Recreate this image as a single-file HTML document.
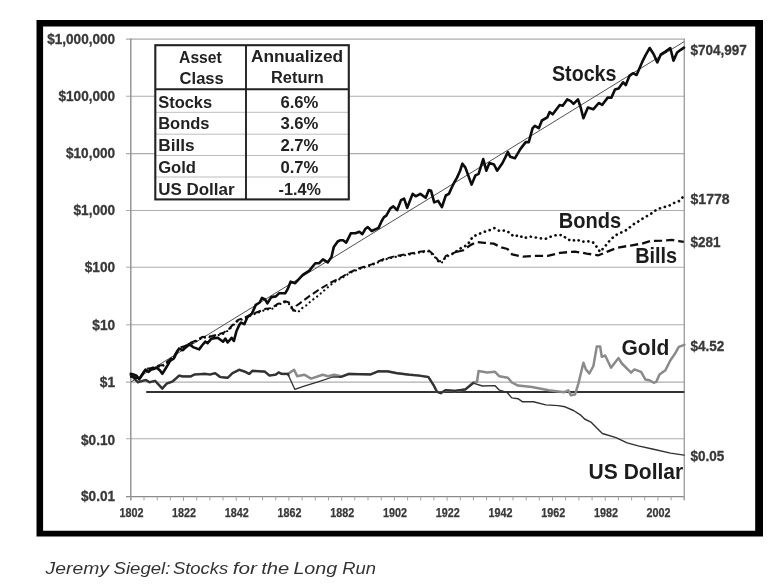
<!DOCTYPE html>
<html><head><meta charset="utf-8"><title>Stocks for the Long Run</title>
<style>html,body{margin:0;padding:0;background:#fff}body{width:777px;height:588px;overflow:hidden;font-family:"Liberation Sans",sans-serif}</style></head>
<body>
<svg width="777" height="588" viewBox="0 0 777 588" style="display:block;font-family:'Liberation Sans',sans-serif">
<rect width="777" height="588" fill="#fff"/>
<defs><filter id="soft" x="0" y="0" width="777" height="588" filterUnits="userSpaceOnUse"><feGaussianBlur stdDeviation="0.55"/></filter></defs>
<g id="chart" filter="url(#soft)">
<rect x="20" y="5" width="757" height="540" fill="#fff"/>
<path fill="#000" fill-rule="evenodd" d="M36.5,20 H763 V536.6 H36.5 Z M43.1,26.5 V530.7 H755.2 V26.5 Z"/>
<line x1="126.00000000000001" y1="39.1" x2="684.3" y2="39.1" stroke="#adadad" stroke-width="1.1"/>
<line x1="126.00000000000001" y1="96.3" x2="684.3" y2="96.3" stroke="#adadad" stroke-width="1.1"/>
<line x1="126.00000000000001" y1="153.6" x2="684.3" y2="153.6" stroke="#adadad" stroke-width="1.1"/>
<line x1="126.00000000000001" y1="210.5" x2="684.3" y2="210.5" stroke="#adadad" stroke-width="1.1"/>
<line x1="126.00000000000001" y1="267.3" x2="684.3" y2="267.3" stroke="#adadad" stroke-width="1.1"/>
<line x1="126.00000000000001" y1="324.8" x2="684.3" y2="324.8" stroke="#adadad" stroke-width="1.1"/>
<line x1="126.00000000000001" y1="382.1" x2="684.3" y2="382.1" stroke="#adadad" stroke-width="1.1"/>
<line x1="126.00000000000001" y1="438.8" x2="684.3" y2="438.8" stroke="#adadad" stroke-width="1.1"/>
<line x1="126.00000000000001" y1="496.6" x2="684.3" y2="496.6" stroke="#8a8a8a" stroke-width="1.3"/>
<line x1="130.8" y1="38.6" x2="130.8" y2="500.1" stroke="#909090" stroke-width="1.4"/>
<line x1="684.3" y1="38.6" x2="684.3" y2="500.1" stroke="#a0a0a0" stroke-width="1.4"/>
<line x1="130.8" y1="496.6" x2="130.8" y2="500.8" stroke="#a2a2a2" stroke-width="1"/>
<line x1="144.0" y1="496.6" x2="144.0" y2="500.40000000000003" stroke="#a2a2a2" stroke-width="1"/>
<line x1="157.2" y1="496.6" x2="157.2" y2="500.40000000000003" stroke="#a2a2a2" stroke-width="1"/>
<line x1="170.3" y1="496.6" x2="170.3" y2="500.40000000000003" stroke="#a2a2a2" stroke-width="1"/>
<line x1="183.5" y1="496.6" x2="183.5" y2="500.8" stroke="#a2a2a2" stroke-width="1"/>
<line x1="196.7" y1="496.6" x2="196.7" y2="500.40000000000003" stroke="#a2a2a2" stroke-width="1"/>
<line x1="209.9" y1="496.6" x2="209.9" y2="500.40000000000003" stroke="#a2a2a2" stroke-width="1"/>
<line x1="223.0" y1="496.6" x2="223.0" y2="500.40000000000003" stroke="#a2a2a2" stroke-width="1"/>
<line x1="236.2" y1="496.6" x2="236.2" y2="500.8" stroke="#a2a2a2" stroke-width="1"/>
<line x1="249.4" y1="496.6" x2="249.4" y2="500.40000000000003" stroke="#a2a2a2" stroke-width="1"/>
<line x1="262.6" y1="496.6" x2="262.6" y2="500.40000000000003" stroke="#a2a2a2" stroke-width="1"/>
<line x1="275.8" y1="496.6" x2="275.8" y2="500.40000000000003" stroke="#a2a2a2" stroke-width="1"/>
<line x1="288.9" y1="496.6" x2="288.9" y2="500.8" stroke="#a2a2a2" stroke-width="1"/>
<line x1="302.1" y1="496.6" x2="302.1" y2="500.40000000000003" stroke="#a2a2a2" stroke-width="1"/>
<line x1="315.3" y1="496.6" x2="315.3" y2="500.40000000000003" stroke="#a2a2a2" stroke-width="1"/>
<line x1="328.5" y1="496.6" x2="328.5" y2="500.40000000000003" stroke="#a2a2a2" stroke-width="1"/>
<line x1="341.7" y1="496.6" x2="341.7" y2="500.8" stroke="#a2a2a2" stroke-width="1"/>
<line x1="354.8" y1="496.6" x2="354.8" y2="500.40000000000003" stroke="#a2a2a2" stroke-width="1"/>
<line x1="368.0" y1="496.6" x2="368.0" y2="500.40000000000003" stroke="#a2a2a2" stroke-width="1"/>
<line x1="381.2" y1="496.6" x2="381.2" y2="500.40000000000003" stroke="#a2a2a2" stroke-width="1"/>
<line x1="394.4" y1="496.6" x2="394.4" y2="500.8" stroke="#a2a2a2" stroke-width="1"/>
<line x1="407.6" y1="496.6" x2="407.6" y2="500.40000000000003" stroke="#a2a2a2" stroke-width="1"/>
<line x1="420.7" y1="496.6" x2="420.7" y2="500.40000000000003" stroke="#a2a2a2" stroke-width="1"/>
<line x1="433.9" y1="496.6" x2="433.9" y2="500.40000000000003" stroke="#a2a2a2" stroke-width="1"/>
<line x1="447.1" y1="496.6" x2="447.1" y2="500.8" stroke="#a2a2a2" stroke-width="1"/>
<line x1="460.3" y1="496.6" x2="460.3" y2="500.40000000000003" stroke="#a2a2a2" stroke-width="1"/>
<line x1="473.4" y1="496.6" x2="473.4" y2="500.40000000000003" stroke="#a2a2a2" stroke-width="1"/>
<line x1="486.6" y1="496.6" x2="486.6" y2="500.40000000000003" stroke="#a2a2a2" stroke-width="1"/>
<line x1="499.8" y1="496.6" x2="499.8" y2="500.8" stroke="#a2a2a2" stroke-width="1"/>
<line x1="513.0" y1="496.6" x2="513.0" y2="500.40000000000003" stroke="#a2a2a2" stroke-width="1"/>
<line x1="526.2" y1="496.6" x2="526.2" y2="500.40000000000003" stroke="#a2a2a2" stroke-width="1"/>
<line x1="539.3" y1="496.6" x2="539.3" y2="500.40000000000003" stroke="#a2a2a2" stroke-width="1"/>
<line x1="552.5" y1="496.6" x2="552.5" y2="500.8" stroke="#a2a2a2" stroke-width="1"/>
<line x1="565.7" y1="496.6" x2="565.7" y2="500.40000000000003" stroke="#a2a2a2" stroke-width="1"/>
<line x1="578.9" y1="496.6" x2="578.9" y2="500.40000000000003" stroke="#a2a2a2" stroke-width="1"/>
<line x1="592.1" y1="496.6" x2="592.1" y2="500.40000000000003" stroke="#a2a2a2" stroke-width="1"/>
<line x1="605.2" y1="496.6" x2="605.2" y2="500.8" stroke="#a2a2a2" stroke-width="1"/>
<line x1="618.4" y1="496.6" x2="618.4" y2="500.40000000000003" stroke="#a2a2a2" stroke-width="1"/>
<line x1="631.6" y1="496.6" x2="631.6" y2="500.40000000000003" stroke="#a2a2a2" stroke-width="1"/>
<line x1="644.8" y1="496.6" x2="644.8" y2="500.40000000000003" stroke="#a2a2a2" stroke-width="1"/>
<line x1="657.9" y1="496.6" x2="657.9" y2="500.8" stroke="#a2a2a2" stroke-width="1"/>
<line x1="671.1" y1="496.6" x2="671.1" y2="500.40000000000003" stroke="#a2a2a2" stroke-width="1"/>
<line x1="684.3" y1="496.6" x2="684.3" y2="500.40000000000003" stroke="#a2a2a2" stroke-width="1"/>
<text x="115.1" y="43.7" text-anchor="end" font-size="14" font-weight="bold" fill="#383838" stroke="#383838" stroke-width="0.3" textLength="67.9" lengthAdjust="spacingAndGlyphs">$1,000,000</text>
<text x="115.1" y="100.9" text-anchor="end" font-size="14" font-weight="bold" fill="#383838" stroke="#383838" stroke-width="0.3" textLength="56.6" lengthAdjust="spacingAndGlyphs">$100,000</text>
<text x="115.1" y="158.2" text-anchor="end" font-size="14" font-weight="bold" fill="#383838" stroke="#383838" stroke-width="0.3" textLength="49.1" lengthAdjust="spacingAndGlyphs">$10,000</text>
<text x="115.1" y="215.1" text-anchor="end" font-size="14" font-weight="bold" fill="#383838" stroke="#383838" stroke-width="0.3" textLength="41.6" lengthAdjust="spacingAndGlyphs">$1,000</text>
<text x="115.1" y="272.1" text-anchor="end" font-size="14" font-weight="bold" fill="#383838" stroke="#383838" stroke-width="0.3" textLength="30.3" lengthAdjust="spacingAndGlyphs">$100</text>
<text x="115.1" y="329.6" text-anchor="end" font-size="14" font-weight="bold" fill="#383838" stroke="#383838" stroke-width="0.3" textLength="22.8" lengthAdjust="spacingAndGlyphs">$10</text>
<text x="115.1" y="387.3" text-anchor="end" font-size="14" font-weight="bold" fill="#383838" stroke="#383838" stroke-width="0.3" textLength="15.3" lengthAdjust="spacingAndGlyphs">$1</text>
<text x="115.1" y="444.8" text-anchor="end" font-size="14" font-weight="bold" fill="#383838" stroke="#383838" stroke-width="0.3" textLength="34.1" lengthAdjust="spacingAndGlyphs">$0.10</text>
<text x="115.1" y="501.2" text-anchor="end" font-size="14" font-weight="bold" fill="#383838" stroke="#383838" stroke-width="0.3" textLength="34.1" lengthAdjust="spacingAndGlyphs">$0.01</text>
<text x="131.4" y="516.7" text-anchor="middle" font-size="12" font-weight="bold" fill="#383838" stroke="#383838" stroke-width="0.25" textLength="24" lengthAdjust="spacingAndGlyphs">1802</text>
<text x="184.1" y="516.7" text-anchor="middle" font-size="12" font-weight="bold" fill="#383838" stroke="#383838" stroke-width="0.25" textLength="24" lengthAdjust="spacingAndGlyphs">1822</text>
<text x="236.8" y="516.7" text-anchor="middle" font-size="12" font-weight="bold" fill="#383838" stroke="#383838" stroke-width="0.25" textLength="24" lengthAdjust="spacingAndGlyphs">1842</text>
<text x="289.6" y="516.7" text-anchor="middle" font-size="12" font-weight="bold" fill="#383838" stroke="#383838" stroke-width="0.25" textLength="24" lengthAdjust="spacingAndGlyphs">1862</text>
<text x="342.3" y="516.7" text-anchor="middle" font-size="12" font-weight="bold" fill="#383838" stroke="#383838" stroke-width="0.25" textLength="24" lengthAdjust="spacingAndGlyphs">1882</text>
<text x="395.0" y="516.7" text-anchor="middle" font-size="12" font-weight="bold" fill="#383838" stroke="#383838" stroke-width="0.25" textLength="24" lengthAdjust="spacingAndGlyphs">1902</text>
<text x="447.7" y="516.7" text-anchor="middle" font-size="12" font-weight="bold" fill="#383838" stroke="#383838" stroke-width="0.25" textLength="24" lengthAdjust="spacingAndGlyphs">1922</text>
<text x="500.4" y="516.7" text-anchor="middle" font-size="12" font-weight="bold" fill="#383838" stroke="#383838" stroke-width="0.25" textLength="24" lengthAdjust="spacingAndGlyphs">1942</text>
<text x="553.2" y="516.7" text-anchor="middle" font-size="12" font-weight="bold" fill="#383838" stroke="#383838" stroke-width="0.25" textLength="24" lengthAdjust="spacingAndGlyphs">1962</text>
<text x="605.9" y="516.7" text-anchor="middle" font-size="12" font-weight="bold" fill="#383838" stroke="#383838" stroke-width="0.25" textLength="24" lengthAdjust="spacingAndGlyphs">1982</text>
<text x="658.6" y="516.7" text-anchor="middle" font-size="12" font-weight="bold" fill="#383838" stroke="#383838" stroke-width="0.25" textLength="24" lengthAdjust="spacingAndGlyphs">2002</text>
<text x="690.5" y="54.7" font-size="14" font-weight="bold" fill="#383838" stroke="#383838" stroke-width="0.3" textLength="56.3" lengthAdjust="spacingAndGlyphs">$704,997</text>
<text x="690.5" y="203.5" font-size="14" font-weight="bold" fill="#383838" stroke="#383838" stroke-width="0.3" textLength="39.1" lengthAdjust="spacingAndGlyphs">$1778</text>
<text x="690.5" y="247.0" font-size="14" font-weight="bold" fill="#383838" stroke="#383838" stroke-width="0.3" textLength="30.0" lengthAdjust="spacingAndGlyphs">$281</text>
<text x="690.5" y="350.8" font-size="14" font-weight="bold" fill="#383838" stroke="#383838" stroke-width="0.3" textLength="33.8" lengthAdjust="spacingAndGlyphs">$4.52</text>
<text x="690.5" y="461.4" font-size="14" font-weight="bold" fill="#383838" stroke="#383838" stroke-width="0.3" textLength="33.8" lengthAdjust="spacingAndGlyphs">$0.05</text>
<line x1="131" y1="382" x2="684" y2="41.7" stroke="#3c3c3c" stroke-width="0.9"/>
<line x1="146.2" y1="392" x2="684.3" y2="392" stroke="#333" stroke-width="2"/>
<path d="M130.8,375.1 L137.9,382.3 L145.8,380.0 L149.5,382.2 L155.2,380.9 L162.3,388.6 L166.8,383.5 L172.6,381.5 L179.0,375.7 L182.9,376.4 L190.6,376.4 L194.5,374.5 L204.8,373.8 L210.0,374.5 L215.1,373.2 L220.2,377.0 L227.7,377.8 L232.4,373.2 L239.3,369.8 L244.7,371.6 L249.3,373.9 L252.4,370.8 L264.8,371.6 L269.4,375.5 L275.6,374.7 L278.7,372.4 L281.8,373.9 L288.0,373.9 L294.1,369.8 L297.2,376.3 L304.2,374.7 L311.1,378.6 L322.7,374.7 L328.1,376.3 L334.3,374.7 L342.0,376.5 L348.9,373.9 L370.5,374.4 L378.2,371.3 L387.5,371.3 L396.8,373.2 L409.1,374.7 L418.4,375.5 L428.4,377.0 L433.8,385.5 L436.9,391.7 L440.8,393.2 L445.4,390.2 L455.0,390.9 L465.4,389.4 L473.2,382.5 L477.0,381.7 L478.6,370.9 L487.1,372.4 L494.8,371.7 L499.4,376.3 L507.9,377.8 L511.8,382.5 L518.0,385.6 L531.9,387.1 L548.8,390.2 L564.3,392.2 L568.3,390.3 L570.9,395.3 L575.0,394.5 L578.4,383.6 L583.4,362.7 L585.9,369.4 L589.3,373.5 L593.4,366.0 L596.8,346.4 L600.1,346.4 L601.8,356.8 L605.2,355.5 L611.0,367.7 L618.5,358.1 L621.9,363.5 L631.1,372.7 L634.4,369.4 L641.1,371.9 L645.3,379.4 L649.5,380.2 L653.7,382.7 L656.2,381.9 L659.5,374.4 L665.4,370.2 L670.4,360.2 L674.6,354.3 L678.8,346.8 L684.3,344.8" fill="none" stroke="#8a8a8a" stroke-width="2.5" stroke-linejoin="round" stroke-linecap="round"/>
<path d="M130.8,375.1 L137.9,382.3 L145.8,380.0 L149.5,382.2 L155.2,380.9 L162.3,388.6 L166.8,383.5 L172.6,381.5 L179.0,375.7 L182.9,376.4 L190.6,376.4 L194.5,374.5 L204.8,373.8 L210.0,374.5 L215.1,373.2 L220.2,377.0 L227.7,377.8 L232.4,373.2 L239.3,369.8 L244.7,371.6 L249.3,373.9 L252.4,370.8 L264.8,371.6 L269.4,375.5 L275.6,374.7 L278.7,372.4 L281.8,373.9 L288.0,373.9 L288.5,375.5" fill="none" stroke="#303030" stroke-width="2.2" stroke-linejoin="round" stroke-linecap="round"/>
<path d="M288.5,375.5 L294.9,389.4 L303.4,386.3 L318.8,381.7 L332.7,377.0 L340.0,377.0" fill="none" stroke="#303030" stroke-width="1.3" stroke-linejoin="round" stroke-linecap="round"/>
<path d="M340.0,377.0 L342.0,376.5 L348.9,373.9 L370.5,374.4 L378.2,371.3 L387.5,371.3 L396.8,373.2 L409.1,374.7 L418.4,375.5 L428.4,377.0 L433.8,385.5 L436.9,391.7 L440.8,393.2 L445.4,390.2 L455.0,390.9 L465.4,389.4 L473.2,383.2" fill="none" stroke="#303030" stroke-width="2.2" stroke-linejoin="round" stroke-linecap="round"/>
<path d="M473.2,383.2 L482.4,386.0 L494.8,385.6 L499.4,390.2 L507.1,392.5 L511.8,397.9 L518.0,398.7 L522.6,401.8 L533.4,401.8 L545.8,404.9 L558.1,405.6 L565.0,406.8 L573.5,410.5 L580.3,414.8 L584.6,419.0 L591.4,422.4 L597.3,428.4 L602.4,433.5 L616.0,437.7 L627.1,442.9 L638.2,445.9 L653.5,449.3 L670.5,453.1 L684.1,455.1" fill="none" stroke="#303030" stroke-width="1.4" stroke-linejoin="round" stroke-linecap="round"/>
<path d="M131.0,376.9 L137.0,378.9 L140.0,377.9 L145.6,369.9 L151.4,368.9 L157.0,366.9 L163.0,365.9 L168.0,361.9 L174.0,356.9 L179.0,348.9 L185.0,346.9 L190.0,343.9 L195.0,341.9 L202.0,337.9 L212.0,336.9 L223.0,333.9 L229.0,329.9 L233.0,325.4 L238.0,320.9 L245.0,318.4 L252.0,315.0 L258.2,312.7 L265.9,309.6 L272.0,308.9 L277.0,305.1 L285.1,302.2 L289.0,304.0 L292.0,309.0 L297.8,312.4 L301.9,308.3 L307.1,304.8 L311.1,300.8 L316.3,297.3 L321.0,293.2 L325.6,289.2 L330.3,285.1 L336.0,281.0 L341.8,278.0 L350.0,272.9 L359.3,269.0 L371.6,265.2 L384.0,259.8 L396.3,256.7 L410.2,254.4 L418.0,252.8 L428.8,251.3 L434.2,256.1 L438.8,262.3 L442.7,262.3 L445.8,256.9 L451.9,254.6 L456.5,251.3" fill="none" stroke="#111" stroke-width="2.2" stroke-dasharray="0.1 4.6" stroke-linecap="round" stroke-linejoin="round"/>
<path d="M456.5,251.3 L462.0,247.4 L467.4,245.1 L472.8,236.6 L478.2,234.3 L483.6,232.0 L489.0,230.4 L494.4,228.1 L499.8,231.2 L505.2,230.4 L509.8,232.8 L513.7,236.6 L519.1,235.1 L523.7,238.2 L529.9,236.6 L535.3,237.4 L539.9,238.2 L545.3,238.9 L550.8,236.6 L556.2,235.1 L562.3,235.1 L567.0,238.9 L571.7,241.1 L576.7,239.4 L581.7,241.9 L586.7,241.1 L592.6,241.9 L596.8,246.9 L600.1,251.9 L605.2,246.1 L609.3,241.1 L613.5,236.9 L618.5,233.5 L622.7,231.9 L627.7,229.4 L631.9,225.2 L637.8,221.8 L642.8,218.5 L648.7,215.1 L652.8,212.6 L657.0,209.3 L662.0,207.6 L668.7,205.9 L674.6,202.6 L679.6,200.9 L683.8,195.9" fill="none" stroke="#111" stroke-width="2.7" stroke-dasharray="0.1 5.0" stroke-linecap="round" stroke-linejoin="round"/>
<path d="M131.0,376.0 L137.0,378.0 L140.0,377.0 L145.6,369.0 L151.4,368.0 L157.0,366.0 L163.0,365.0 L168.0,361.0 L174.0,356.0 L179.0,348.0 L185.0,346.0 L190.0,343.0 L195.0,341.0 L202.0,337.0 L212.0,336.0 L223.0,333.0 L229.0,329.0 L233.0,324.5 L238.0,320.0 L245.0,317.5 L252.0,314.1 L258.2,311.8 L265.9,308.7 L272.0,308.0 L277.0,304.2 L285.1,301.3 L289.1,302.5 L291.5,306.5 L293.2,310.6 L296.1,306.0 L300.1,303.1 L309.4,296.1 L319.8,289.2 L330.3,282.8 L341.8,277.0 L350.0,272.1 L359.3,268.2 L371.6,264.4 L384.0,259.0 L396.3,255.9 L410.2,253.6 L418.0,252.0 L428.8,250.5 L434.2,255.1 L438.8,261.3 L442.7,261.3 L445.8,255.9 L451.9,253.6 L456.0,252.0" fill="none" stroke="#111" stroke-width="2.0" stroke-dasharray="7 3.4" stroke-linejoin="round"/>
<path d="M456.0,252.0 L462.7,250.5 L470.4,245.1 L476.6,242.0 L484.3,242.8 L493.6,243.6 L501.3,247.4 L507.5,249.0 L512.1,254.4 L523.0,256.7 L535.3,255.9 L547.7,255.9 L560.0,252.8 L575.0,251.6 L586.7,253.6 L598.5,255.3 L606.8,251.9 L616.9,247.8 L631.9,245.3 L642.0,243.6 L650.3,241.1 L662.0,240.6 L672.1,239.9 L678.8,241.1 L683.8,241.9" fill="none" stroke="#111" stroke-width="2.3" stroke-dasharray="8.2 4" stroke-linejoin="round"/>
<path d="M130.8,373.8 L133.5,374.5 L136.6,375.7 L139.2,379.3 L142.0,375.2 L145.5,369.6 L148.6,371.9 L151.2,369.6 L154.0,368.9 L156.6,367.6 L160.0,370.5 L162.3,373.8 L165.0,369.5 L167.5,365.4 L170.0,361.0 L173.9,358.4 L176.0,354.0 L179.0,348.6 L182.9,350.2 L186.0,347.0 L189.1,344.0 L193.0,347.1 L199.1,349.4 L202.0,345.5 L205.3,341.7 L207.6,343.2 L211.5,338.6 L217.7,337.8 L223.1,341.7 L225.4,338.6 L227.7,342.5 L231.6,337.8 L233.9,340.9 L236.5,331.0 L239.5,324.5 L241.0,322.6 L244.3,324.2 L247.4,317.2 L252.0,313.4 L255.8,304.9 L259.7,302.5 L262.0,297.9 L265.1,299.5 L267.4,303.3 L271.3,297.1 L275.9,296.4 L279.0,293.3 L285.2,293.3 L287.5,289.4 L290.6,281.7 L295.2,283.2 L303.0,274.7 L309.1,270.9 L315.3,263.2 L319.2,263.2 L323.0,259.3 L327.7,262.4 L331.5,257.0 L333.8,246.9 L337.7,241.5 L340.0,240.3 L343.1,240.3 L346.2,242.6 L350.8,233.3 L355.4,233.3 L359.3,231.8 L362.4,234.1 L365.5,228.7 L367.8,227.1 L371.7,231.0 L378.6,227.9 L381.7,221.0 L384.0,217.1 L386.3,215.6 L390.2,208.6 L393.3,206.3 L397.1,210.2 L401.0,200.1 L404.1,198.6 L407.2,207.8 L412.6,193.9 L415.7,196.3 L420.3,193.9 L425.7,197.8 L428.8,190.1 L431.1,190.8 L434.2,202.4 L438.1,200.9 L441.9,207.1 L445.8,195.5 L448.9,193.9 L452.0,187.0 L454.3,182.4 L457.0,177.6 L460.0,171.0 L462.4,163.7 L465.4,167.6 L471.6,184.6 L475.5,175.3 L478.6,173.8 L483.2,159.1 L486.3,170.7 L489.4,163.0 L494.0,164.5 L497.1,170.7 L502.5,163.0 L507.9,152.1 L510.2,156.8 L514.9,158.3 L520.3,149.1 L525.7,142.1 L528.8,142.1 L532.6,128.2 L534.9,125.9 L538.8,128.2 L541.9,120.5 L547.3,117.4 L549.6,112.0 L552.7,114.3 L559.7,105.0 L562.7,105.7 L567.2,99.4 L570.8,101.2 L573.5,103.9 L578.0,99.4 L580.7,107.5 L583.4,118.3 L587.9,107.5 L593.3,109.3 L598.7,103.0 L602.3,104.8 L607.7,97.6 L611.4,97.6 L615.0,89.5 L618.6,88.6 L623.1,82.3 L625.8,85.0 L629.4,75.9 L633.0,73.2 L636.6,75.0 L642.0,62.4 L645.6,55.2 L649.7,48.0 L653.7,54.3 L657.3,62.4 L660.9,54.3 L665.4,51.6 L670.3,48.0 L673.5,60.6 L677.1,52.5 L680.7,49.8 L684.0,47.7" fill="none" stroke="#0a0a0a" stroke-width="2.6" stroke-linejoin="round" stroke-linecap="round"/>
<text x="552.0" y="80.6" font-size="22" font-weight="bold" fill="#1a1a1a" textLength="64.5" lengthAdjust="spacingAndGlyphs">Stocks</text>
<text x="558.8" y="228" font-size="22" font-weight="bold" fill="#1a1a1a" textLength="62.5" lengthAdjust="spacingAndGlyphs">Bonds</text>
<text x="635.2" y="263.3" font-size="22" font-weight="bold" fill="#1a1a1a" textLength="42" lengthAdjust="spacingAndGlyphs">Bills</text>
<text x="621.5" y="355.1" font-size="22" font-weight="bold" fill="#1a1a1a" textLength="47.8" lengthAdjust="spacingAndGlyphs">Gold</text>
<text x="588.6" y="479.4" font-size="22" font-weight="bold" fill="#1a1a1a" textLength="94.6" lengthAdjust="spacingAndGlyphs">US Dollar</text>
<rect x="155.3" y="45.2" width="193.5" height="154.2" fill="#fff" stroke="none"/>
<line x1="156.0" y1="112.3" x2="348.1" y2="112.3" stroke="#bdbdbd" stroke-width="1"/>
<line x1="156.0" y1="134.2" x2="348.1" y2="134.2" stroke="#bdbdbd" stroke-width="1"/>
<line x1="156.0" y1="155.5" x2="348.1" y2="155.5" stroke="#bdbdbd" stroke-width="1"/>
<line x1="156.0" y1="177.0" x2="348.1" y2="177.0" stroke="#bdbdbd" stroke-width="1"/>
<rect x="155.3" y="45.2" width="193.5" height="154.2" fill="none" stroke="#222" stroke-width="2.1"/>
<line x1="246" y1="45.2" x2="246" y2="199.4" stroke="#222" stroke-width="1.9"/>
<line x1="155.3" y1="89.3" x2="348.8" y2="89.3" stroke="#222" stroke-width="2"/>
<text x="179.1" y="62.6" font-size="16" font-weight="bold" fill="#222" text-anchor="start" textLength="42.6" lengthAdjust="spacingAndGlyphs">Asset</text>
<text x="179.6" y="84.0" font-size="16" font-weight="bold" fill="#222" text-anchor="start" textLength="44.2" lengthAdjust="spacingAndGlyphs">Class</text>
<text x="250.9" y="61.6" font-size="16" font-weight="bold" fill="#222" text-anchor="start" textLength="92.3" lengthAdjust="spacingAndGlyphs">Annualized</text>
<text x="271.0" y="82.6" font-size="16" font-weight="bold" fill="#222" text-anchor="start" textLength="52.8" lengthAdjust="spacingAndGlyphs">Return</text>
<text x="158.2" y="108.3" font-size="16" font-weight="bold" fill="#222" text-anchor="start" textLength="54.0" lengthAdjust="spacingAndGlyphs">Stocks</text>
<text x="158.2" y="129.4" font-size="16" font-weight="bold" fill="#222" text-anchor="start" textLength="51.3" lengthAdjust="spacingAndGlyphs">Bonds</text>
<text x="158.2" y="150.9" font-size="16" font-weight="bold" fill="#222" text-anchor="start" textLength="36.4" lengthAdjust="spacingAndGlyphs">Bills</text>
<text x="158.2" y="173" font-size="16" font-weight="bold" fill="#222" text-anchor="start" textLength="37.8" lengthAdjust="spacingAndGlyphs">Gold</text>
<text x="158.2" y="194.7" font-size="16" font-weight="bold" fill="#222" text-anchor="start" textLength="76.4" lengthAdjust="spacingAndGlyphs">US Dollar</text>
<text x="280.4" y="108.2" font-size="16" font-weight="bold" fill="#222" text-anchor="start" textLength="38.0" lengthAdjust="spacingAndGlyphs">6.6%</text>
<text x="280.4" y="129.4" font-size="16" font-weight="bold" fill="#222" text-anchor="start" textLength="38.0" lengthAdjust="spacingAndGlyphs">3.6%</text>
<text x="280.4" y="150.9" font-size="16" font-weight="bold" fill="#222" text-anchor="start" textLength="38.0" lengthAdjust="spacingAndGlyphs">2.7%</text>
<text x="280.4" y="173" font-size="16" font-weight="bold" fill="#222" text-anchor="start" textLength="38.0" lengthAdjust="spacingAndGlyphs">0.7%</text>
<text x="278.6" y="194.7" font-size="16" font-weight="bold" fill="#222" text-anchor="start" textLength="42.3" lengthAdjust="spacingAndGlyphs">-1.4%</text>
</g>
<g opacity="0.995">
<text x="45.6" y="573.7" font-size="17" font-style="italic" fill="#333" textLength="63.3" lengthAdjust="spacingAndGlyphs">Jeremy</text>
<text x="113.6" y="573.7" font-size="17" font-style="italic" fill="#333" textLength="56.7" lengthAdjust="spacingAndGlyphs">Siegel:</text>
<text x="172.9" y="573.7" font-size="17" font-style="italic" fill="#333" textLength="55.4" lengthAdjust="spacingAndGlyphs">Stocks</text>
<text x="232.8" y="573.7" font-size="17" font-style="italic" fill="#333" textLength="24.2" lengthAdjust="spacingAndGlyphs">for</text>
<text x="261.2" y="573.7" font-size="17" font-style="italic" fill="#333" textLength="28.1" lengthAdjust="spacingAndGlyphs">the</text>
<text x="293.4" y="573.7" font-size="17" font-style="italic" fill="#333" textLength="43.8" lengthAdjust="spacingAndGlyphs">Long</text>
<text x="342.2" y="573.7" font-size="17" font-style="italic" fill="#333" textLength="33.7" lengthAdjust="spacingAndGlyphs">Run</text>
</g>
</svg>
</body></html>
